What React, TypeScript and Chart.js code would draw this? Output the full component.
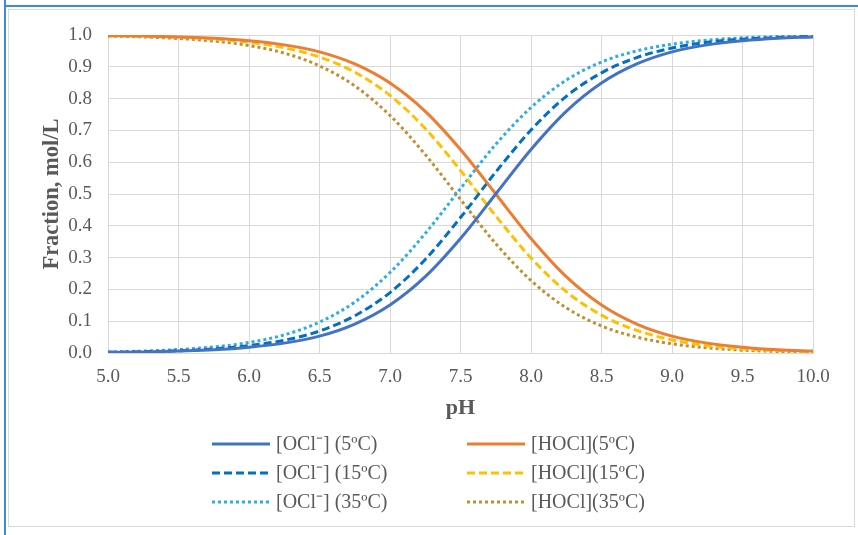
import React, { useEffect, useRef } from "react";
import { Chart, registerables } from "chart.js";

Chart.register(...registerables);

const PH = [5.0, 5.25, 5.5, 5.75, 6.0, 6.25, 6.5, 6.75, 7.0, 7.25, 7.5, 7.75, 8.0, 8.25, 8.5, 8.75, 9.0, 9.25, 9.5, 9.75, 10.0];

const OCL_5 = [0.002, 0.003, 0.006, 0.010, 0.018, 0.031, 0.053, 0.091, 0.151, 0.240, 0.360, 0.500, 0.640, 0.760, 0.849, 0.909, 0.947, 0.969, 0.982, 0.990, 0.994];
const HOCL_5 = [0.998, 0.997, 0.994, 0.990, 0.982, 0.969, 0.947, 0.909, 0.849, 0.760, 0.640, 0.500, 0.360, 0.240, 0.151, 0.091, 0.053, 0.031, 0.018, 0.010, 0.006];
const OCL_15 = [0.002, 0.004, 0.007, 0.013, 0.023, 0.040, 0.069, 0.117, 0.190, 0.294, 0.426, 0.569, 0.701, 0.807, 0.881, 0.929, 0.959, 0.977, 0.987, 0.992, 0.996];
const HOCL_15 = [0.998, 0.996, 0.993, 0.987, 0.977, 0.960, 0.931, 0.883, 0.810, 0.706, 0.574, 0.431, 0.299, 0.193, 0.119, 0.071, 0.041, 0.023, 0.013, 0.008, 0.004];
const OCL_35 = [0.003, 0.006, 0.011, 0.019, 0.033, 0.057, 0.097, 0.160, 0.253, 0.376, 0.517, 0.656, 0.772, 0.858, 0.915, 0.950, 0.971, 0.984, 0.991, 0.995, 0.997];
const HOCL_35 = [0.997, 0.994, 0.989, 0.981, 0.967, 0.943, 0.903, 0.840, 0.747, 0.624, 0.483, 0.344, 0.228, 0.142, 0.085, 0.050, 0.029, 0.016, 0.009, 0.005, 0.003];

const LABELS = ["[OCl⁻] (5ºC)", "[HOCl](5ºC)", "[OCl⁻] (15ºC)", "[HOCl](15ºC)", "[OCl⁻] (35ºC)", "[HOCl](35ºC)"];
const SERIES = [OCL_5, HOCL_5, OCL_15, HOCL_15, OCL_35, HOCL_35];
const COLORS = ["#4472C4", "#ED7D31", "#0070C0", "#FFC000", "#2CADE6", "#BF9030"];
const DASHES: number[][] = [[], [], [8, 4], [8, 4], [3, 3], [3, 3]];

const X_TITLE = "pH";
const Y_TITLE = "Fraction, mol/L";

const FONT = '"Liberation Serif", "Times New Roman", serif';
const TEXT = "#595959";
const GRID = "#d9d9d9";

const LEGEND_COL_X = [212, 467];
const LEGEND_ROW_Y = [444, 473, 502];

const legendPlugin = {
  id: "customLegend",
  afterDraw(chart: any) {
    const ctx = chart.ctx;
    chart.data.datasets.forEach((ds: any, i: number) => {
      const col = i % 2;
      const row = Math.floor(i / 2);
      const x0 = LEGEND_COL_X[col];
      const y = LEGEND_ROW_Y[row];
      ctx.save();
      ctx.strokeStyle = ds.borderColor;
      ctx.lineWidth = ds.borderWidth;
      ctx.setLineDash(ds.borderDash || []);
      ctx.lineCap = "butt";
      ctx.beginPath();
      ctx.moveTo(x0, y);
      ctx.lineTo(x0 + 58, y);
      ctx.stroke();
      ctx.setLineDash([]);
      ctx.fillStyle = TEXT;
      ctx.font = "20px " + FONT;
      ctx.textBaseline = "middle";
      ctx.textAlign = "left";
      ctx.fillText(ds.label, x0 + 64, y + 1);
      ctx.restore();
    });
  },
};

export default function App() {
  const ref = useRef<HTMLCanvasElement>(null);
  useEffect(() => {
    if (!ref.current) return;
    const chart = new Chart(ref.current, {
      type: "line",
      data: {
        datasets: SERIES.map((s, i) => ({
          label: LABELS[i],
          data: s.map((v, j) => ({ x: PH[j], y: v })),
          borderColor: COLORS[i],
          backgroundColor: COLORS[i],
          borderWidth: 3,
          borderDash: DASHES[i],
          borderCapStyle: "butt",
          pointRadius: 0,
          cubicInterpolationMode: "monotone",
          fill: false,
        })),
      },
      options: {
        animation: false,
        responsive: false,
        maintainAspectRatio: false,
        layout: { padding: { left: 38.5, right: 45, top: 35, bottom: 113.8 } },
        plugins: { legend: { display: false }, tooltip: { enabled: false } },
        scales: {
          x: {
            type: "linear",
            min: 5,
            max: 10,
            ticks: {
              stepSize: 0.5,
              color: TEXT,
              font: { family: FONT, size: 19 },
              padding: 13,
              maxRotation: 0,
              callback: (v: any) => Number(v).toFixed(1),
            },
            grid: { color: GRID, lineWidth: 1, drawTicks: false },
            border: { color: GRID, width: 1 },
            title: { display: true, text: X_TITLE, color: TEXT, font: { family: FONT, size: 22, weight: "bold" }, padding: 0 },
            afterFit: (scale: any) => { scale.height = 68.2; },
          },
          y: {
            min: 0,
            max: 1,
            ticks: {
              stepSize: 0.1,
              color: TEXT,
              font: { family: FONT, size: 19 },
              padding: 16,
              callback: (v: any) => Number(v).toFixed(1),
            },
            grid: { color: GRID, lineWidth: 1, drawTicks: false },
            border: { color: GRID, width: 1 },
            title: { display: true, text: Y_TITLE, color: TEXT, font: { family: FONT, size: 22.5, weight: "bold" }, padding: 0 },
            afterFit: (scale: any) => { scale.width = 69.5; },
          },
        },
      } as any,
      plugins: [legendPlugin],
    });
    return () => chart.destroy();
  }, []);

  return (
    <div style={{ position: "fixed", left: 0, top: 0, width: 858, height: 535, background: "#fff", overflow: "hidden" }}>
      <div style={{ position: "absolute", left: 8, top: 9, width: 845, height: 516, border: "1.5px solid #d9d9d9" }} />
      <div style={{ position: "absolute", left: 3.5, top: 0, width: 2, height: 535, background: "#3C8DCB" }} />
      <div style={{ position: "absolute", left: 3.5, top: 4.5, width: 855, height: 2, background: "#3C8DCB" }} />
      <canvas ref={ref} width={858} height={535} style={{ position: "absolute", left: 0, top: 0, width: 858, height: 535 }} />
    </div>
  );
}
